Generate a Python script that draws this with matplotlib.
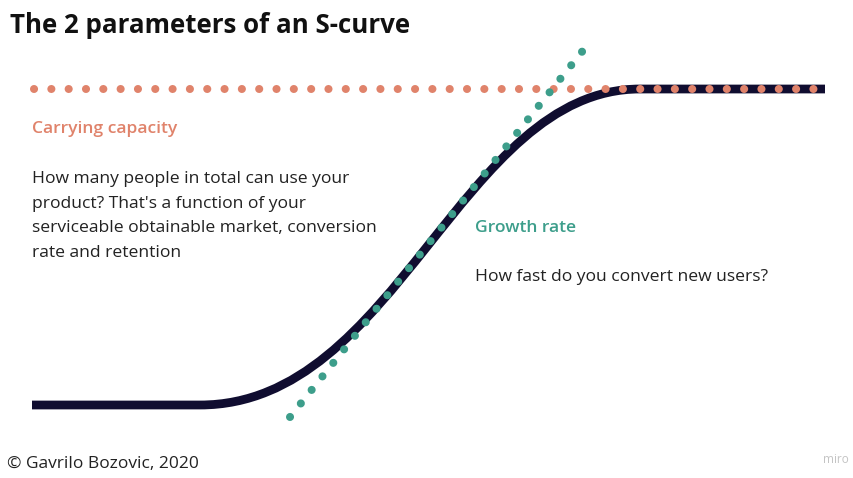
import numpy as np
import matplotlib.pyplot as plt
from matplotlib.path import Path
from matplotlib.patches import PathPatch

plt.rcParams['font.family'] = ['Open Sans', 'DejaVu Sans']

# S-curve (pixel coordinates, y downwards):
# flat start, one cubic bezier for the rise, flat end
curve_x = [32, 200, 397, 461, 640, 825]
curve_y = [405, 405, 405, 89, 89, 89]
curve_codes = [Path.MOVETO, Path.LINETO, Path.CURVE4, Path.CURVE4, Path.CURVE4, Path.LINETO]

# carrying capacity (dotted horizontal) and growth rate (dotted tangent)
cap_x = [34, 821]
cap_y = [89, 89]
growth_x = [290, 585]
growth_y = [417, 48]

body_lines = ["How many people in total can use your",
              "product? That's a function of your",
              "serviceable obtainable market, conversion",
              "rate and retention"]

navy = '#100d30'
salmon = '#e0836b'
teal = '#3d9e8b'
text_col = '#222222'

fig = plt.figure(figsize=(8.54, 4.78), dpi=100)
ax = fig.add_axes([0, 0, 1, 1])
ax.set_xlim(0, 854)
ax.set_ylim(478, 0)
ax.axis('off')

s_path = Path(np.column_stack([curve_x, curve_y]), curve_codes)
ax.add_patch(PathPatch(s_path, facecolor='none', edgecolor=navy, lw=6.3,
                       capstyle='butt', joinstyle='round', zorder=2))
# dot spacing ~17.5 px; pattern is in units of linewidth
ax.plot(cap_x, cap_y, color=salmon, lw=5.8, linestyle=(0, (0.01, 2.14)),
        dash_capstyle='round', zorder=3)
ax.plot(growth_x, growth_y, color=teal, lw=5.8, linestyle=(0, (0.01, 2.14)),
        dash_capstyle='round', zorder=3)

ax.text(10, 33, 'The 2 parameters of an S-curve', fontsize=18.6, fontweight='bold',
        color='#111111', va='baseline', ha='left')
ax.text(32, 133, 'Carrying capacity', fontsize=12.6, fontweight='semibold',
        color=salmon, va='baseline', ha='left')
for i, line in enumerate(body_lines):
    ax.text(32, 183 + 24.7 * i, line, fontsize=12.6, color=text_col,
            va='baseline', ha='left')
ax.text(475, 232, 'Growth rate', fontsize=12.6, fontweight='semibold', color=teal,
        va='baseline', ha='left')
ax.text(475, 281, 'How fast do you convert new users?', fontsize=12.6, color=text_col,
        va='baseline', ha='left')
ax.text(7, 468, '\u00a9 Gavrilo Bozovic, 2020', fontsize=12.5, color=text_col,
        va='baseline', ha='left')
ax.text(849, 463, 'miro', fontsize=8.5, color='#c4c4c4', va='baseline', ha='right')

fig.savefig('out.png', dpi=100)
